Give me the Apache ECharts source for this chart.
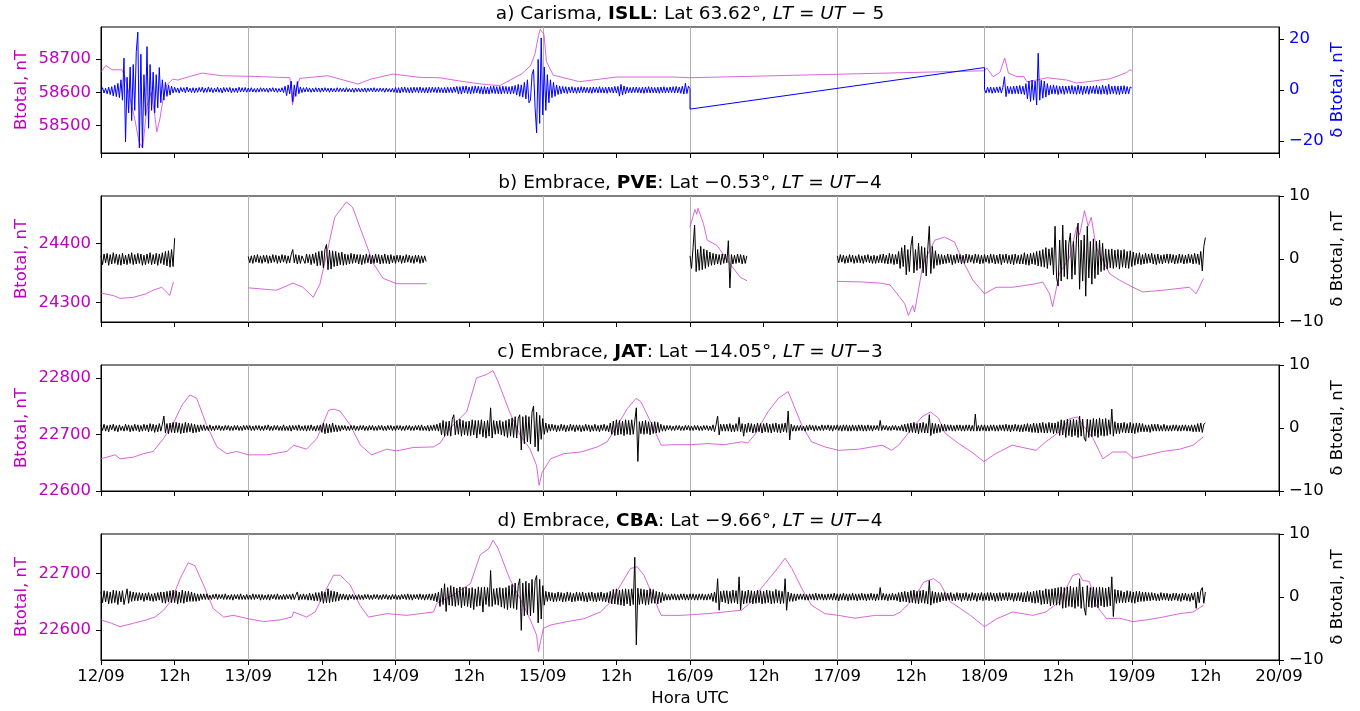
<!DOCTYPE html>
<html>
<head>
<meta charset="utf-8">
<script src="https://cdn.jsdelivr.net/npm/echarts@6/dist/echarts.min.js"></script>
<style>
  html, body { margin: 0; padding: 0; background: #fff; }
  #chart { width: 1360px; height: 711px; }
</style>
</head>
<body>
<div id="chart"></div>
<script>
// hours since 12/09 00:00 UTC, delta series sampled every quarter hour
var hStep = 0.25;
var xMin = 0, xMax = 192;

// Btotal (nT), [hour, value]; null = data gap
var btIsll = [[0,58662],[0.8,58681],[1.8,58668],[3.4,58668],[3.9,58647],[4.5,58600],[5.5,58520],[6.2,58450],[6.8,58432],[7.5,58560],[8.2,58600],[8.7,58540],[9.1,58481],[9.6,58520],[10.2,58590],[10.7,58622],[11.7,58640],[12.5,58637],[14.5,58648],[16.5,58658],[19.7,58650],[25,58648],[30.8,58644],[31.2,58562],[31.6,58600],[32.4,58642],[37,58650],[41.9,58625],[44,58640],[47.6,58655],[52,58645],[55.2,58644],[58.5,58634],[62,58625],[65,58620],[67,58640],[68.5,58655],[69.3,58668],[70,58680],[70.7,58713],[71.3,58771],[71.6,58790],[72.2,58775],[72.6,58693],[73.7,58652],[78,58632],[84,58646],[93.3,58646],[96,58644],[144,58665],[144.4,58673],[145.4,58647],[146.5,58660],[147.3,58703],[147.9,58658],[149.3,58647],[150.4,58648],[150.9,58632],[152.5,58637],[154.2,58644],[157.4,58637],[159,58628],[161.7,58634],[164.5,58641],[166.1,58652],[167.2,58660],[167.7,58668],[168,58665]];

var btPve = [[0,24316],[2,24312],[3.1,24307],[5.3,24309],[7.4,24315],[8.5,24321],[9.9,24326],[10.4,24321],[11.2,24312],[11.8,24335],[12,null],[24,24325],[28.6,24321],[31.3,24333],[32.9,24326],[34.6,24309],[35.7,24332],[36.8,24383],[38.1,24445],[40,24471],[41,24462],[42.2,24428],[44.4,24366],[46,24341],[48.2,24332],[53.1,24332],[53.2,null],[96,24428],[96.8,24458],[97.1,24450],[97.3,24460],[98.2,24434],[98.8,24406],[100.4,24397],[102.5,24366],[104.2,24343],[105.3,24337],[105.4,null],[120,24336],[124,24335],[127,24333],[128.6,24330],[130.2,24309],[131,24298],[131.6,24278],[132.3,24295],[132.6,24284],[134,24366],[135.9,24406],[137.5,24411],[139.1,24403],[140.7,24366],[142.1,24338],[144,24315],[145.9,24326],[148.6,24326],[152.4,24332],[153.5,24335],[154.6,24315],[155.1,24293],[156.2,24349],[157.9,24377],[159,24428],[159.5,24415],[160.3,24456],[160.9,24430],[161.4,24445],[162.2,24394],[164.4,24349],[166,24338],[168.2,24326],[169.8,24318],[173.1,24321],[177.4,24326],[178.5,24315],[179.7,24341]];

var btJat = [[0,22657],[2.3,22664],[3.1,22657],[5.3,22660],[6.9,22666],[8.5,22670],[10.2,22693],[11.8,22720],[13.2,22752],[14.5,22770],[15.6,22764],[17.2,22717],[18.9,22678],[20.5,22666],[22.1,22670],[24,22664],[27,22664],[30.3,22670],[31.4,22681],[33.5,22674],[35.2,22693],[37.1,22743],[38,22745],[39,22741],[40.6,22717],[42.3,22681],[44.1,22664],[46.6,22674],[48.2,22671],[50.9,22677],[54.2,22678],[55.3,22685],[56.3,22702],[57.4,22717],[59.6,22740],[61.2,22800],[62.8,22806],[63.9,22813],[64.7,22794],[66.6,22740],[68.3,22699],[69.9,22675],[71,22645],[71.4,22610],[71.9,22633],[73.3,22657],[75.4,22666],[78.2,22669],[80.9,22678],[82.5,22687],[84.2,22717],[85.8,22746],[87.2,22764],[88,22758],[89.6,22722],[91.3,22681],[93.5,22682],[96.2,22682],[98.9,22684],[101.6,22682],[104.4,22687],[105.4,22685],[106.5,22699],[108.7,22740],[110.4,22764],[112,22776],[112.6,22760],[114.2,22717],[115.8,22687],[118,22678],[120.2,22672],[123.5,22674],[127.3,22681],[128.9,22672],[130,22681],[132.2,22711],[133.8,22731],[135.2,22740],[136.5,22729],[137.6,22702],[139.8,22684],[141.9,22669],[143.9,22652],[145.8,22666],[148.5,22681],[152.4,22672],[154,22687],[156.2,22705],[157.9,22728],[159.2,22731],[160,22717],[161.7,22693],[163.3,22657],[164.9,22669],[167.1,22669],[168.2,22658],[170.3,22663],[173.1,22670],[175.8,22674],[178,22681],[179.7,22696]];

var btCba = [[0,22618],[1.7,22612],[3.1,22606],[5.3,22612],[7.4,22618],[8.8,22623],[10.2,22635],[11.5,22653],[12.9,22691],[14.2,22719],[15.3,22714],[16.7,22680],[18.3,22638],[20,22623],[21.6,22626],[24,22620],[26.5,22615],[29.2,22618],[31.1,22623],[31.4,22632],[33.5,22623],[34.9,22632],[36.5,22668],[37.9,22697],[39,22697],[40.6,22680],[42.2,22644],[43.6,22623],[46.6,22629],[49.8,22626],[52,22629],[54.2,22632],[54.7,22647],[55.3,22650],[57.4,22662],[60.2,22682],[61.8,22733],[63.2,22744],[63.9,22759],[64.7,22745],[66.6,22691],[68.3,22656],[69.9,22620],[71,22591],[71.3,22562],[72.1,22603],[73.3,22609],[76,22615],[78.7,22620],[81.4,22632],[83.1,22650],[84.7,22680],[86.3,22709],[87.4,22712],[88.5,22697],[90.1,22656],[91.3,22626],[94.5,22626],[98.9,22629],[101.6,22632],[104.4,22635],[106,22650],[107.6,22674],[109.8,22703],[111.5,22727],[112.6,22709],[114.2,22674],[115.8,22644],[118,22629],[120.2,22626],[122.9,22621],[126.2,22626],[129.2,22626],[130.3,22632],[132.5,22656],[134.1,22685],[135.7,22691],[136.8,22682],[138.4,22650],[140.1,22638],[141.7,22626],[144,22606],[146,22620],[148.6,22632],[151.9,22626],[154,22632],[156.2,22650],[158.4,22697],[159.4,22700],[160,22688],[161.1,22686],[162.2,22644],[163.9,22620],[166,22621],[168.2,22615],[170.4,22618],[173.1,22623],[175.8,22629],[178,22632],[179.7,22644]];

// delta Btotal (nT): segments [start hour, values every hStep], one row = 6 h
var dIsll = [
  [0, [-0.5,0.9,-1.2,0.7,-1.5,1.1,-1.8,1.3,-2.4,1.9,-2.6,2.6,-3,4,-4,12.5,-20.3,5,-9,9,-12,10,-8,15,
       22.7,-22.7,14,-22.7,6,-10,17,-15,10,-8,7,-9,6,-7,8.8,-5,4,-4,3,-2.5,2,-2,1.5,-1.2,
       1.1,-0.9,0.8,-1.2,1,-0.7,0.9,-1.1,1.2,-0.8,0.7,-1,0.9,-1.1,0.8,-0.9,1,-0.7,1.1,-1,0.8,-0.9,1.2,-0.8,
       0.9,-1,0.7,-0.8,1.1,-0.9,0.8,-1.2,1,-0.7,0.9,-0.8,1,-1.1,0.7,-0.9,0.8,-1,1.1,-0.8,0.9,-0.7,1,-0.9,
       0.8,-0.7,0.9,-0.8,0.6,-0.9,0.7,-0.8,0.9,-0.6,0.8,-0.7,0.7,-0.9,0.8,-0.6,0.9,-0.8,0.7,-0.9,0.6,-0.8,0.9,-1,
       1.5,-2.2,2,-1.5,3.5,-4.6,2,-2.5,3.3,-1.5,1.2,-1,0.9,-0.8,1,-0.7,0.8,-0.9,0.7,-0.8,0.9,-0.7,0.8,-0.9,
       0.8,-0.7,0.9,-0.6,0.7,-0.9,0.8,-0.7,0.6,-0.8,0.9,-0.7,0.8,-0.6,0.7,-0.8,0.9,-0.7,0.6,-0.8,0.7,-0.9,0.8,-0.7,
       0.7,-0.8,0.6,-0.7,0.8,-0.9,0.7,-0.6,0.8,-0.7,0.9,-0.8,0.6,-0.7,0.8,-0.6,0.7,-0.9,0.8,-0.7,0.6,-0.8,0.7,-0.9,
       1,-1.1,0.9,-1.2,1.1,-0.9,1.2,-1,0.9,-1.1,1,-1.2,1.1,-0.9,1,-1.1,1.2,-1,0.9,-1.1,1,-1.2,1.1,-1,
       1.1,-0.9,1,-1.1,1.2,-1,0.9,-1.1,1,-1.2,1.1,-1,1,-1.1,1.2,-0.9,1.4,-1.5,1.3,-1.6,1.5,-1.2,1.6,-1.4,
       1.2,-1.5,1.4,-1.3,1.6,-1.2,1.5,-1.4,1.3,-1.6,1.4,-1.5,1.2,-1.6,1.5,-1.3,1.6,-1.4,1.3,-1.5,1.4,-1.6,1.5,-1.3,
       1.4,-1.5,1.3,-1.6,1.5,-1.4,1.8,-2,2.2,-2.5,2,-2.8,3,-3.5,4,-5,-4,6,8,-7,-16.8,12,-13.1,20.4,
       -9.8,9,-8,6,-5,4,-3,3,-2.5,2,-1.8,1.6,-1.5,1.4,-1.2,1.3,-1.4,1.2,-1.1,1.3,-1.2,1,-1.3,1.1,
       -1.2,1.3,-1,1.2,-1.1,1,-1.2,1.1,-1.3,1.2,-1,1.1,-1.2,1.3,-1.1,1,-1.2,1.1,-1.3,1.2,-1,1.1,-1.2,1.4,
       -1.2,1.4,-2.4,2.2,-2,1.6,-1.5,1.2,-1.1,1,-1.2,1.1,-1,1.2,-1.1,1,-1.2,1.1,-1.3,1.2,-1.1,1.3,-1.2,1.1,
       -1.1,1,-1.2,1.1,-1.3,1.2,-1.1,1.3,-1.2,1,-1.1,1.2,-1,1.3,-1.2,1.4,-1.1,1.2,-1.3,1.5,-1.6,2.6,-1.4,1.5,
       0.5]],
  [96, [-7.5]],
  [144, [8.8]],
  [144, [0.3,-1.2,1.1,-1,1.2,-1.3,1,-1.1,1.2,-1,1.3,-1.2,1.1,5.2,-2.6,1.5,-1.4,1.3,-1.6,1.5,-1.4,1.6,-1.5,1.8,
         -1.6,1.5,-1.8,2.5,-3.5,3.5,-4.5,3.9,-4,3.5,-5.9,14.4,-4,3.8,-3.2,3.5,-2.8,2.5,-2,1.8,-1.6,2,-1.5,1.7,
         -1.8,1.5,-1.4,1.6,-1.7,1.5,-1.3,1.6,-1.5,1.8,-1.6,1.4,-1.7,1.9,-1.5,1.6,-1.8,1.5,-1.4,1.6,-1.7,1.5,-1.3,1.6,
         -1.5,1.8,-1.6,1.4,-1.7,1.9,-1.5,1.6,-1.8,2.2,-1.6,1.5,-1.4,1.6,-1.7,1.5,-1.8,1.6,-1.5,1.7,-1.6,1.4,-1.5,1.2,
         0.8]]
];

var dPve = [
  [0, [0.5,-0.9,0.8,-0.6,0.9,-1,0.7,-0.8,1,-0.7,0.8,-0.9,0.7,-1,0.9,-0.8,0.6,-0.9,0.8,-0.7,1,-0.9,0.7,-0.8,
       0.9,-0.7,0.8,-1,0.6,-0.9,0.8,-0.7,1,-0.9,0.7,-0.8,0.9,-1,0.8,-0.7,1,-0.9,1.2,-1.1,1.3,-1.3,1.5,-1.2,
       3.3]],
  [24, [0.4,-0.6,0.5,-0.7,0.6,-0.5,0.7,-0.6,0.5,-0.7,0.6,-0.5,0.6,-0.7,0.5,-0.6,0.7,-0.5,0.6,-0.7,0.5,-0.6,0.7,-0.5,
        0.6,-0.7,0.5,-0.6,0.7,1.5,-0.6,0.7,-0.8,0.6,-0.7,0.5,0.6,-0.7,0.8,-0.6,0.7,-0.9,0.8,-0.7,1,-1.1,1.2,-1,
        1.3,-1.4,1.5,2.3,-1.7,1.4,-1.6,1.3,-1.2,1.2,-1.1,1,-0.9,1.1,-1,0.8,-0.9,0.7,-0.8,0.9,-0.7,0.8,-0.6,0.7,
        -0.8,0.7,-0.9,0.6,-0.7,0.8,-0.6,0.7,-0.8,0.6,-0.7,0.8,-0.6,0.7,-0.8,0.6,-0.7,0.8,-0.7,0.6,-0.8,0.7,-0.6,0.5,
        -0.7,0.6,-0.5,0.6,-0.7,0.5,-0.6,0.7,-0.5,0.6,-0.6,0.5,-0.7,0.6,-0.5,0.6,-0.7,0.5,-0.6,0.5,-0.4]],
  [96, [0.5,-1.5,1.8,5.4,-2,1.5,-1.8,2,-1.7,1.6,-1.5,1.4,-1.2,1.1,-1,0.9,-0.9,0.8,-0.8,0.7,-0.9,0.8,-0.7,0.8,
        -0.6,2.9,-4.6,0.7,-0.8,0.6,-0.7,0.8,-0.6,0.7,-0.8,0.6,-0.7,0.5]],
  [120, [0.5,-0.6,0.7,-0.5,0.6,-0.7,0.5,-0.6,0.7,-0.5,0.6,-0.7,0.5,-0.6,0.7,-0.6,0.5,-0.7,0.6,-0.5,0.7,-0.6,0.5,-0.7,
         0.6,-0.7,0.5,-0.6,0.7,-0.6,0.8,-0.7,0.6,-0.8,0.9,-0.7,0.8,-0.9,0.7,-0.8,1.2,-1.5,1.8,-1.2,2.2,-2.5,1.5,-2,
         2,3.6,-2.2,1.5,-1.8,2.5,-1.5,2,-2.2,1.8,-2.7,1.5,5.2,-2.3,2,-1.5,1.3,-1,0.8,-0.9,0.7,-0.8,0.6,-0.7,
         0.8,-0.6,0.7,-0.9,0.6,-0.7,0.8,-0.6,0.7,-0.8,0.6,-0.7,0.8,-0.6,0.7,-0.5,0.6,-0.7,0.8,-0.6,0.7,-0.8,0.6,-0.7,
         0.7,-0.5,0.6,-0.7,0.8,-0.6,0.7,-0.8,0.6,-0.7,0.8,-0.9,0.7,-0.6,0.8,-0.7,0.6,-0.8,0.7,-0.9,0.8,-0.7,0.6,-0.8,
         0.7,-0.8,1,-0.9,0.8,-1,0.9,-0.8,1,-0.9,1.2,-1.1,1.3,-1.2,1.5,-1.3,1.8,-1.5,1.6,-1,1.8,-2.5,5.2,-3,
         -4.3,3,-3.5,5.4,-2.8,3,-3.2,2.5,4.1,-3.2,2.8,-2.5,3.5,5.7,-4.8,3,-3.5,3.8,-5.9,5.2,-3,2.8,-4,3.2,
         -3.1,2.8,-2.5,3,-2,2.5,-1.8,1.6,-1.6,1.5,-1.4,1.6,-1.5,1.4,-1.3,1.5,-1.6,1.4,-1.3,1.5,-1.4,1.2,-1.5,1.3,
         -1.2,1.1,-1,0.9,-0.8,1,-0.9,0.7,-0.8,0.9,-0.7,0.8,-0.6,0.9,-0.8,0.7,-0.9,0.8,-0.7,0.6,-0.8,0.7,-0.6,0.8,
         -0.7,0.8,-0.6,0.7,-0.8,0.6,-0.7,0.8,-0.6,0.7,-0.8,0.6,-0.7,0.8,-0.6,0.7,-0.8,0.9,-0.7,0.8,-0.9,1.2,-1.9,2,
         3.4]]
];

var dJat = [
  [0, [0.5,-0.4,0.6,-0.5,0.4,-0.6,0.5,-0.3,0.6,-0.5,0.4,-0.6,0.5,-0.4,0.3,-0.5,0.6,-0.4,0.5,-0.6,0.4,-0.5,0.6,-0.4,
       0.5,-0.6,0.4,-0.5,0.6,-0.4,0.5,-0.6,0.7,-0.5,0.6,-0.7,0.5,-0.6,0.7,-0.5,0.6,1.9,-0.8,0.7,-0.9,0.8,-0.7,0.9,
       -0.8,0.9,-0.7,0.8,-0.9,0.7,-0.8,0.9,-0.7,0.8,-0.6,0.7,-0.8,0.6,-0.7,0.5,-0.6,0.5,-0.4,0.5,-0.4,0.3,-0.4,0.5,
       -0.4,0.3,-0.4,0.4,-0.3,0.4,-0.4,0.3,-0.4,0.4,-0.3,0.4,-0.4,0.3,-0.4,0.4,-0.3,0.4,-0.4,0.3,-0.4,0.4,-0.3,0.4,
       -0.3,0.4,-0.4,0.3,-0.4,0.4,-0.3,0.4,-0.4,0.3,-0.4,0.4,-0.3,0.5,-0.4,0.3,-0.4,0.4,-0.3,0.4,-0.4,0.3,-0.4,0.5,
       -0.4,0.3,-0.4,0.4,-0.5,0.4,-0.3,0.4,-0.4,0.5,-0.4,0.3,-0.4,0.4,-0.5,0.4,-0.4,0.5,-0.4,0.3,-0.5,0.4,-0.4,0.5,
       -0.7,0.8,-0.9,0.7,-0.8,0.6,-0.7,0.8,-0.6,0.5,-0.6,0.4,-0.5,0.4,-0.3,0.4,-0.4,0.3,-0.4,0.4,-0.3,0.4,-0.4,0.3,
       -0.4,0.4,-0.3,0.4,-0.4,0.3,-0.4,0.4,-0.3,0.4,-0.4,0.3,-0.4,0.4,-0.3,0.4,-0.4,0.3,-0.4,0.4,-0.3,0.4,-0.4,0.3,
       -0.4,0.4,-0.3,0.4,-0.4,0.3,-0.4,0.4,-0.3,0.4,-0.4,0.3,-0.4,0.4,-0.3,0.4,-0.4,0.5,-0.4,0.3,-0.4,0.4,-0.5,0.4,
       -0.4,0.5,-0.4,0.6,-0.5,0.8,-1.1,1.2,-1.3,1,-1.2,1.1,-1.3,1.4,2.1,-1.1,1.2,-1,1.4,-1.3,1.2,-1.1,1,-1.2,
       1.1,-1.2,1.3,-1.1,1.2,-1.6,1.2,-1,1.3,-1.4,1.1,-1.6,1.2,-1.3,3.2,-1.6,1.2,-1,1.1,-0.9,1.2,-1.1,1,-1.3,
       1.2,-1.5,1.4,-1.3,1.6,-1.5,1.8,-1.6,1.5,2.1,-3.5,1.8,-2.5,2,-2.2,1.8,-2.5,2.5,3.5,-3,2.5,-3.7,2,-1.8,
       1.5,-1,0.8,-0.7,0.6,-0.5,0.6,-0.4,0.5,-0.6,0.4,-0.5,0.6,-0.4,0.5,-0.6,0.4,-0.5,0.6,-0.4,0.5,-0.6,0.5,-0.4,
       0.5,-0.6,0.4,-0.5,0.6,-0.4,0.5,-0.6,0.4,-0.5,0.6,-0.5,0.4,-0.6,0.5,-0.4,0.6,-0.5,0.4,-0.6,0.8,-1,1.1,-1.2,
       1.3,-1.1,1.2,-1,1.1,-1.2,1.3,-1,1.2,-1.1,1.3,-1,1.1,3.2,-5.3,1,-0.9,1.1,-1,1.2,-0.9,1,-1.1,0.9,
       -0.9,1,-0.8,0.9,-0.7,0.6,-0.5,0.4,-0.5,0.4,-0.3,0.4,-0.4,0.3,-0.4,0.4,-0.3,0.4,-0.4,0.3,-0.4,0.4,-0.3,0.4,
       -0.4,0.3,-0.4,0.4,-0.3,0.4,-0.4,0.3,-0.4,0.4,-0.3,0.4,-0.4,0.3,-0.4,0.5,-0.6,0.5,1.9,-1.1,0.6,-0.5,0.6,-0.5,
       0.6,-0.5,0.7,-0.6,0.5,-0.6,0.7,-0.5,1.7,-0.6,0.7,-1.3,0.6,-0.7,0.8,-0.6,0.7,-0.8,0.6,-0.7,0.8,-0.6,0.7,-0.8,
       0.7,-0.6,0.8,-0.7,0.6,-0.8,0.7,-0.6,0.8,-0.7,0.6,-0.8,0.7,-0.6,0.8,-0.7,2.7,-1.9,0.6,-0.5,0.4,-0.5,0.4,-0.4,
       0.4,-0.4,0.3,-0.5,0.4,-0.4,0.5,-0.3,0.4,-0.5,0.4,-0.4,0.3,-0.4,0.5,-0.4,0.4,-0.3,0.5,-0.4,0.4,-0.5,0.4,-0.3,
       0.5,-0.4,0.4,-0.5,0.5,-0.4,0.5,-0.5,0.4,-0.5,0.5,-0.4,0.4,-0.5,0.5,-0.4,0.5,-0.5,0.4,-0.5,0.5,-0.4,0.4,-0.5,
       0.4,-0.3,0.4,-0.4,1.2,-0.4,0.4,-0.3,0.4,-0.4,0.3,-0.4,0.4,-0.3,0.4,-0.4,0.3,-0.4,0.5,-0.5,0.6,-0.6,0.7,-0.7,
       0.8,-0.7,0.9,-0.8,0.7,-0.9,0.8,-0.7,0.9,-0.8,0.7,-0.8,2.1,-1.2,0.8,-0.9,0.7,-0.8,0.6,-0.7,0.6,-0.5,0.6,-0.5,
       0.5,-0.4,0.5,-0.5,0.4,-0.5,0.5,-0.4,0.5,-0.5,0.4,-0.5,0.5,-0.4,0.5,-0.5,0.4,-0.5,2.2,-0.5,0.4,-0.5,0.5,-0.4,
       0.5,-0.5,0.4,-0.5,0.5,-0.4,0.5,-0.5,0.4,-0.5,0.5,-0.4,0.5,-0.5,0.6,-0.5,0.5,-0.6,0.5,-0.5,0.6,-0.5,0.5,-0.6,
       0.5,-0.6,0.6,-0.5,0.7,-0.6,0.6,-0.7,0.8,-0.7,0.7,-0.8,0.8,-0.7,0.9,-0.8,0.7,-0.8,0.9,-0.7,0.8,-0.9,0.8,-0.8,
       1,-1.2,1.3,-1.1,1.2,-1.5,1.4,-1.2,1.3,-1.4,1.4,-1.2,1.3,-1.5,1.9,-1.3,1.4,-1.6,-2.1,1.4,-1.5,1.3,-1.4,1.5,
       -1.3,1.4,-1.5,1.6,-1.2,1.4,-1.3,1.5,-1.2,1.3,-1,3,-1.3,1,-0.9,0.8,-0.9,0.8,-0.7,0.9,-0.8,0.7,-0.8,0.9,
       -0.8,0.7,-0.9,0.8,-0.7,0.8,-0.6,0.7,-0.6,0.5,-0.6,0.5,-0.7,0.6,-0.5,0.6,-0.5,0.6,-0.5,0.4,-0.5,0.6,-0.5,0.4,
       -0.5,0.4,-0.5,0.5,-0.4,0.5,-0.5,0.4,-0.5,0.5,-0.4,0.5,-0.5,0.4,-0.5,0.5,-0.6,0.5,-0.6,0.7,-0.6,0.8,-0.7,0.6,
       0.8]]
];

var dCba = [
  [0, [0.8,-0.9,1,-0.8,0.9,-1.1,0.8,-1,1.1,-0.9,1,-1.2,0.9,-0.8,1,-1.2,-1.3,1.3,-1,0.9,-0.7,0.8,-0.6,0.7,
       -0.6,0.7,-0.5,0.6,-0.7,0.6,-0.5,0.7,-0.6,0.5,-0.7,0.6,-0.6,0.7,-0.5,0.8,-0.9,0.8,-1,0.9,-0.8,1,-0.9,1.1,
       -0.9,1,-1.1,0.8,-0.9,1.1,-1,0.9,-0.8,0.9,-0.7,0.8,-0.7,0.6,-0.7,0.5,-0.6,0.5,-0.4,0.5,-0.4,0.5,-0.4,0.3,
       -0.4,0.4,-0.3,0.5,-0.4,0.4,-0.3,0.4,-0.4,0.5,-0.4,0.3,-0.4,0.4,-0.5,0.4,-0.3,0.4,-0.4,0.5,-0.4,0.3,-0.4,0.4,
       -0.4,0.3,-0.4,0.5,-0.4,0.4,-0.3,0.4,-0.5,0.4,-0.4,0.3,-0.4,0.4,-0.5,0.4,-0.3,0.4,-0.4,0.5,-0.4,0.3,-0.4,0.4,
       -0.4,0.4,-0.3,0.4,-0.4,0.5,-0.4,0.3,0.8,-0.5,0.4,-0.4,0.5,-0.4,0.4,-0.5,0.6,-0.5,0.5,-0.6,0.7,-0.6,0.7,-0.7,
       0.9,-1,0.8,-0.9,1.3,-0.9,1,-0.8,0.9,-0.7,0.8,-0.6,0.5,-0.4,0.5,-0.4,0.4,-0.5,0.4,-0.3,0.4,-0.4,0.3,-0.4,
       0.4,-0.4,0.3,-0.4,0.4,-0.3,0.4,-0.4,0.3,-0.4,0.4,-0.3,0.4,-0.4,0.3,-0.4,0.4,-0.3,0.4,-0.4,0.3,-0.4,0.4,-0.3,
       0.4,-0.4,0.3,-0.4,0.4,-0.3,0.4,-0.4,0.5,-0.4,0.4,-0.5,0.4,-0.3,0.4,-0.4,0.5,-0.4,0.4,-0.5,0.4,-0.4,0.5,-0.5,
       0.5,-0.6,0.6,-0.8,0.8,-1.5,1.4,-1.2,2.1,-2.3,1.5,-1.3,1.8,-1.4,1.6,-1.5,1.4,-1.3,1.6,-1.7,1.5,-1.4,1.6,-1.5,
       1.4,-1.7,1.5,-2,1.3,-1.5,1.6,-1.4,1.5,-2.4,1.6,-1.2,1.5,-1.5,4.2,-1.5,1.3,-1.2,1.4,-1.3,1.5,-1.6,1.4,-1.8,
       1.5,-2,1.8,-1.7,2,-1.8,2.2,-2,1.8,2.9,-5.3,2.2,-3,2.5,-2.8,2.2,-3,2.8,-2.5,2.6,3.4,-4.1,2.8,-3.5,
       1.8,-1.3,0.9,-0.7,0.8,-0.6,0.7,-0.8,0.6,-0.7,0.8,-0.6,0.7,-0.8,0.6,-0.7,0.8,-0.6,0.7,-0.8,0.6,-0.7,0.8,-0.6,
       0.7,-0.6,0.8,-0.7,0.6,-0.8,0.7,-0.6,0.8,-0.7,0.6,-0.8,0.7,-0.6,0.8,-0.7,0.6,-0.8,0.7,-0.9,0.9,-1.1,1.2,-1.1,
       1.3,-1.2,1.1,-1.3,1.2,-1.4,1.3,-1.1,1.2,-1.4,1.3,-1.2,6.3,-7.6,1.4,-1.2,1.3,-1.1,1.2,-1.3,1.1,-1.2,1.3,-1,
       1.2,-1,0.9,-1.1,0.8,-0.9,0.7,-0.6,0.5,-0.5,0.4,-0.5,0.5,-0.4,0.5,-0.5,0.4,-0.5,0.5,-0.4,0.5,-0.5,0.4,-0.5,
       0.5,-0.4,0.5,-0.5,0.4,-0.5,0.5,-0.4,0.5,-0.5,0.4,-0.5,0.5,-0.4,0.6,-0.7,0.8,-0.9,2.9,-2.1,0.9,-0.8,1,-0.9,
       1,-1.1,0.9,-1,1.1,-0.9,1,-1.1,3.2,-2,1,-1.1,0.9,-1,1.1,-0.9,1,-1.1,0.9,-1,1.1,-0.9,1,-1.1,
       0.9,-1,1.1,-0.9,1,-1.1,0.9,-1,1.2,-0.9,1,-1.1,0.9,-1,2.9,-2.1,0.8,-0.7,0.6,-0.7,0.5,-0.6,0.5,-0.4,
       0.5,-0.4,0.5,-0.5,0.4,-0.5,0.5,-0.4,0.5,-0.5,0.6,-0.5,0.5,-0.4,0.5,-0.5,0.4,-0.5,0.5,-0.4,0.5,-0.5,0.6,-0.5,
       0.5,-0.6,0.5,-0.5,0.6,-0.5,0.5,-0.6,0.5,-0.5,0.6,-0.5,0.5,-0.6,0.5,-0.5,0.6,-0.5,0.5,-0.6,0.5,-0.5,0.6,-0.5,
       0.5,-0.6,0.5,-0.5,1.5,-0.5,0.6,-0.5,0.5,-0.6,0.5,-0.5,0.6,-0.5,0.5,-0.6,0.7,-0.8,0.8,-0.7,0.9,-0.8,0.8,-0.9,
       1,-0.9,1.1,-1,0.9,-1.1,1,-0.9,1.1,-1,0.9,-1.1,2.6,-1.3,0.9,-1,0.8,-0.9,0.7,-0.8,0.7,-0.6,0.7,-0.6,
       0.6,-0.5,0.7,-0.6,0.5,-0.6,0.7,-0.5,0.6,-0.7,0.6,-0.5,0.7,-0.6,0.5,-0.6,0.7,-0.5,0.6,-0.7,0.6,-0.5,0.7,-0.6,
       0.6,-0.5,0.7,-0.6,0.7,-0.5,0.6,-0.7,0.6,-0.6,0.7,-0.6,0.6,-0.5,0.7,-0.6,0.7,-0.5,0.6,-0.7,0.6,-0.6,0.7,-0.6,
       0.7,-0.8,0.7,-0.8,0.9,-0.7,0.8,-0.9,0.9,-1,1,-0.9,1.1,-1.2,1,-1.1,1.3,-1.1,1.2,-1.4,1.3,-1.2,1.4,-1.3,
       1.5,-1.3,1.6,-1.8,1.5,-1.7,1.6,-1.5,1.7,-1.6,1.5,-1.8,1.6,-1.5,2.9,-1.8,1.6,-1.7,-2.9,1.8,-1.6,1.5,-1.7,1.6,
       -1.6,1.5,-1.7,1.6,-1.4,1.5,-1.6,1.4,-1.5,1.6,-1.4,3.2,-3.1,1.2,-1,1.1,-0.9,1,-0.9,0.8,-0.9,1,-0.8,0.9,
       -0.9,0.8,-1,0.9,-0.8,0.9,-0.7,0.8,-0.7,0.8,-0.6,0.7,-0.6,0.7,-0.5,0.6,-0.6,0.5,-0.6,0.7,-0.5,0.6,-0.5,0.6,
       -0.6,0.5,-0.6,0.6,-0.5,0.6,-0.6,0.5,-0.7,0.6,-0.5,0.6,-0.6,0.5,-0.7,0.6,-0.5,0.7,-1.8,0.8,-0.9,1,1.5,-1,
       0.8]]
];

// axis limits and tick labels per panel
var leftLim = [[58417, 58797], [24267, 24481], [22600, 22823], [22547, 22770]];
var leftTicks = [[58500, 58600, 58700], [24300, 24400], [22600, 22700, 22800], [22600, 22700]];
var rightLim = [24.7, 10, 10, 10];
var rightTicks = [[-20, 0, 20], [-10, 0, 10], [-10, 0, 10], [-10, 0, 10]];
var titles = [
  ['a) Carisma, ', 'ISLL', ': Lat 63.62°, ', ' = ', ' \u2212 5'],
  ['b) Embrace, ', 'PVE', ': Lat \u22120.53°, ', ' = ', '\u22124'],
  ['c) Embrace, ', 'JAT', ': Lat \u221214.05°, ', ' = ', '\u22123'],
  ['d) Embrace, ', 'CBA', ': Lat \u22129.66°, ', ' = ', '\u22124']
];

var magenta = '#bf00bf';
var font = 'DejaVu Sans';
var fs = 16.5;
var titleFs = 18.5;
var gridTop = [27, 196, 365, 534];
var gridH = 126;

function segPairs(segs, breakGaps) {
    var out = [];
    segs.forEach(function (seg, k) {
        if (k > 0 && breakGaps) out.push([seg[0], null]);
        seg[1].forEach(function (v, i) {
            out.push([seg[0] + i * hStep, v]);
        });
    });
    return out;
}

function signed(v) {
    return v < 0 ? '\u2212' + (-v) : String(v);
}

function xLabel(h) {
    if (h % 24 === 0) {
        return (12 + h / 24) + '/09';
    }
    return '12h';
}

var grids = [], xAxes = [], yAxes = [], series = [], titleList = [];
var bts = [btIsll, btPve, btJat, btCba];
var deltas = [segPairs(dIsll, false), segPairs(dPve, true), segPairs(dJat, true), segPairs(dCba, true)];
var deltaColor = ['#0000ff', '#000000', '#000000', '#000000'];

for (var g = 0; g < 4; g++) {
    grids.push({
        left: 101, right: 81, top: gridTop[g], height: gridH,
        show: true, borderColor: '#000', borderWidth: 1
    });
    // time axis, ticks every 12 h
    xAxes.push({
        type: 'value', gridIndex: g, min: xMin, max: xMax, interval: 12,
        position: 'bottom',
        axisLine: { show: true, onZero: false, lineStyle: { color: '#000', width: 1 } },
        axisTick: { show: true, length: 5, lineStyle: { color: '#000' } },
        axisLabel: {
            show: g === 3, formatter: xLabel, color: '#000', fontSize: fs, fontFamily: font,
            margin: 8, showMinLabel: true, showMaxLabel: true
        },
        splitLine: { show: false },
        name: g === 3 ? 'Hora UTC' : '',
        nameLocation: 'middle', nameGap: 30,
        nameTextStyle: { color: '#000', fontSize: fs, fontFamily: font }
    });
    // daily grid lines
    xAxes.push({
        type: 'value', gridIndex: g, min: xMin, max: xMax, interval: 24,
        position: 'bottom',
        axisLine: { show: false, onZero: false }, axisTick: { show: false }, axisLabel: { show: false },
        splitLine: { show: true, lineStyle: { color: '#b0b0b0', width: 1 } }
    });
    yAxes.push({
        type: 'value', gridIndex: g, position: 'left',
        min: leftLim[g][0], max: leftLim[g][1],
        name: 'Btotal, nT', nameLocation: 'middle', nameRotate: 90, nameGap: 71, nameMoveOverlap: false,
        nameTextStyle: { color: magenta, fontSize: fs, fontFamily: font },
        axisLine: { show: true, onZero: false, lineStyle: { color: '#000' } },
        axisTick: { show: true, length: 5, customValues: leftTicks[g], lineStyle: { color: '#000' } },
        axisLabel: {
            customValues: leftTicks[g], color: magenta, fontSize: fs, fontFamily: font, margin: 10,
            formatter: function (v) { return String(v); }
        },
        splitLine: { show: false }
    });
    var rc = g === 0 ? '#0000ff' : '#000';
    yAxes.push({
        type: 'value', gridIndex: g, position: 'right',
        min: -rightLim[g], max: rightLim[g],
        name: '\u03b4 Btotal, nT', nameLocation: 'middle', nameRotate: 90, nameGap: 50, nameMoveOverlap: false,
        nameTextStyle: { color: rc, fontSize: fs, fontFamily: font },
        axisLine: { show: true, onZero: false, lineStyle: { color: '#000' } },
        axisTick: { show: true, length: 5, customValues: rightTicks[g], lineStyle: { color: '#000' } },
        axisLabel: { customValues: rightTicks[g], color: rc, fontSize: fs, fontFamily: font, margin: 10, formatter: signed },
        splitLine: { show: false }
    });
    series.push({
        type: 'line', xAxisIndex: 2 * g, yAxisIndex: 2 * g, data: bts[g],
        symbol: 'none', silent: true,
        lineStyle: { color: '#d040d0', width: 0.8 }
    });
    series.push({
        type: 'line', xAxisIndex: 2 * g, yAxisIndex: 2 * g + 1, data: deltas[g],
        symbol: 'none', silent: true,
        lineStyle: { color: deltaColor[g], width: 1 }
    });
    var t = titles[g];
    titleList.push({
        text: '{n|' + t[0] + '}{b|' + t[1] + '}{n|' + t[2] + '}{i|LT}{n|' + t[3] + '}{i|UT}{n|' + t[4] + '}',
        left: 690, top: gridTop[g] - 22, textAlign: 'center', padding: 0,
        textStyle: {
            fontWeight: 'normal',
            rich: {
                n: { fontSize: titleFs, fontFamily: font, color: '#000', fontWeight: 'normal' },
                b: { fontSize: titleFs, fontFamily: font, color: '#000', fontWeight: 'bold' },
                i: { fontSize: titleFs, fontFamily: font, color: '#000', fontWeight: 'normal', fontStyle: 'italic' }
            }
        }
    });
}

var myChart = echarts.init(document.getElementById('chart'), null, { renderer: 'canvas' });
myChart.setOption({
    animation: false,
    backgroundColor: '#fff',
    textStyle: { fontFamily: font },
    title: titleList,
    grid: grids,
    xAxis: xAxes,
    yAxis: yAxes,
    series: series
});
</script>
</body>
</html>
